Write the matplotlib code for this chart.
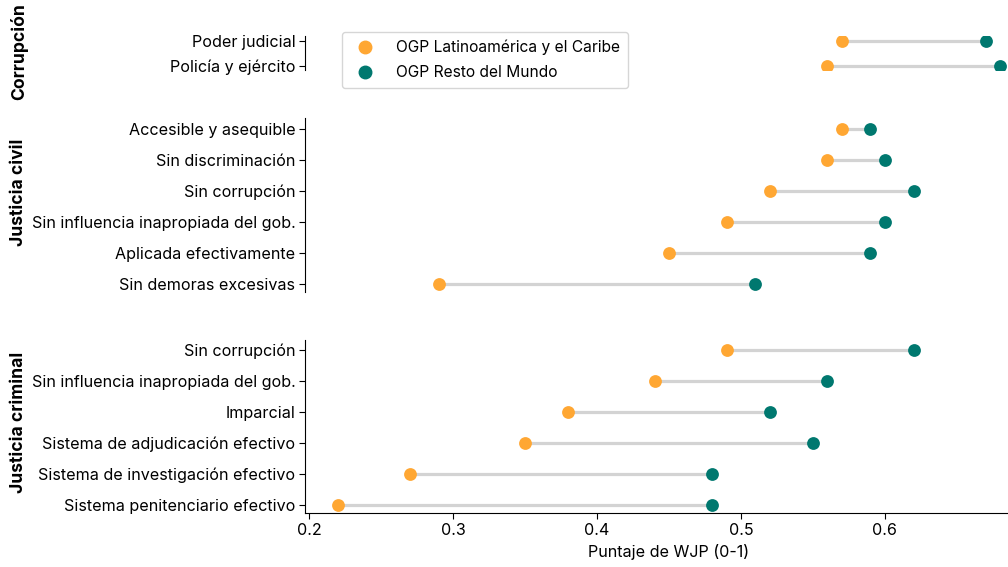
import matplotlib.pyplot as plt
from matplotlib.lines import Line2D

plt.rcParams["font.family"] = ["Inter", "DejaVu Sans"]

# categories per group, listed bottom -> top
corr_labels = ["Policía y ejército", "Poder judicial"]
corr_latam = [0.56, 0.57]
corr_rest = [0.68, 0.67]

civil_labels = ["Sin demoras excesivas", "Aplicada efectivamente",
                "Sin influencia inapropiada del gob.", "Sin corrupción",
                "Sin discriminación", "Accesible y asequible"]
civil_latam = [0.29, 0.45, 0.49, 0.52, 0.56, 0.57]
civil_rest = [0.51, 0.59, 0.60, 0.62, 0.60, 0.59]

crim_labels = ["Sistema penitenciario efectivo", "Sistema de investigación efectivo",
               "Sistema de adjudicación efectivo", "Imparcial",
               "Sin influencia inapropiada del gob.", "Sin corrupción"]
crim_latam = [0.22, 0.27, 0.35, 0.38, 0.44, 0.49]
crim_rest = [0.48, 0.48, 0.55, 0.52, 0.56, 0.62]

groups = ["Corrupción", "Justicia civil", "Justicia criminal"]

orange = "#ffa733"
teal = "#00786f"
W, H = 1008, 567
fs = 11.6

fig = plt.figure(figsize=(W / 100, H / 100), dpi=100)

# axes boxes in pixels: (left, top, right, bottom), plus ylim
boxes = [
    ((305, 36, 1033, 70), (-0.16, 1.2)),
    ((305, 118, 1033, 292), (-0.26, 5.35)),
    ((305, 340, 1033, 513), (-0.26, 5.32)),
]
data = [
    (corr_labels, corr_latam, corr_rest),
    (civil_labels, civil_latam, civil_rest),
    (crim_labels, crim_latam, crim_rest),
]

axes = []
for (box, ylim), (labels, latam, rest) in zip(boxes, data):
    l, t, r, b = box
    ax = fig.add_axes([l / W, 1 - b / H, (r - l) / W, (b - t) / H])
    ys = range(len(labels))
    ax.hlines(ys, latam, rest, color="#d3d3d3", lw=2.3, zorder=1)
    ax.scatter(latam, ys, s=85, color=orange, zorder=3, linewidths=0)
    ax.scatter(rest, ys, s=85, color=teal, zorder=3, linewidths=0)
    ax.set_yticks(list(ys))
    ax.set_yticklabels(labels, fontsize=fs)
    ax.set_ylim(*ylim)
    ax.set_xlim(0.197, 0.703)
    for s in ["top", "right", "bottom"]:
        ax.spines[s].set_visible(False)
    ax.tick_params(axis="x", bottom=False, labelbottom=False)
    ax.tick_params(axis="y", length=4, pad=3)
    axes.append(ax)

ax = axes[-1]
ax.spines["bottom"].set_visible(True)
ax.set_xticks([0.2, 0.3, 0.4, 0.5, 0.6])
ax.tick_params(axis="x", bottom=True, labelbottom=True, labelsize=fs, length=4)
ax.set_xlabel("Puntaje de WJP (0-1)", fontsize=fs)

# group labels
for name, yc in zip(groups, [52, 192, 422]):
    fig.text(19 / W, 1 - yc / H, name, rotation=90, fontsize=12.6,
             fontweight="bold", ha="center", va="center")

handles = [
    Line2D([], [], marker="o", ls="", color=orange, markersize=9),
    Line2D([], [], marker="o", ls="", color=teal, markersize=9),
]
fig.legend(handles, ["OGP Latinoamérica y el Caribe", "OGP Resto del Mundo"],
           loc="upper left", bbox_to_anchor=(342 / W, 1 - 32 / H),
           borderaxespad=0, fontsize=11.2, frameon=True, labelspacing=0.65,
           handletextpad=1.0, borderpad=0.5)

fig.savefig("out.png", dpi=100)
